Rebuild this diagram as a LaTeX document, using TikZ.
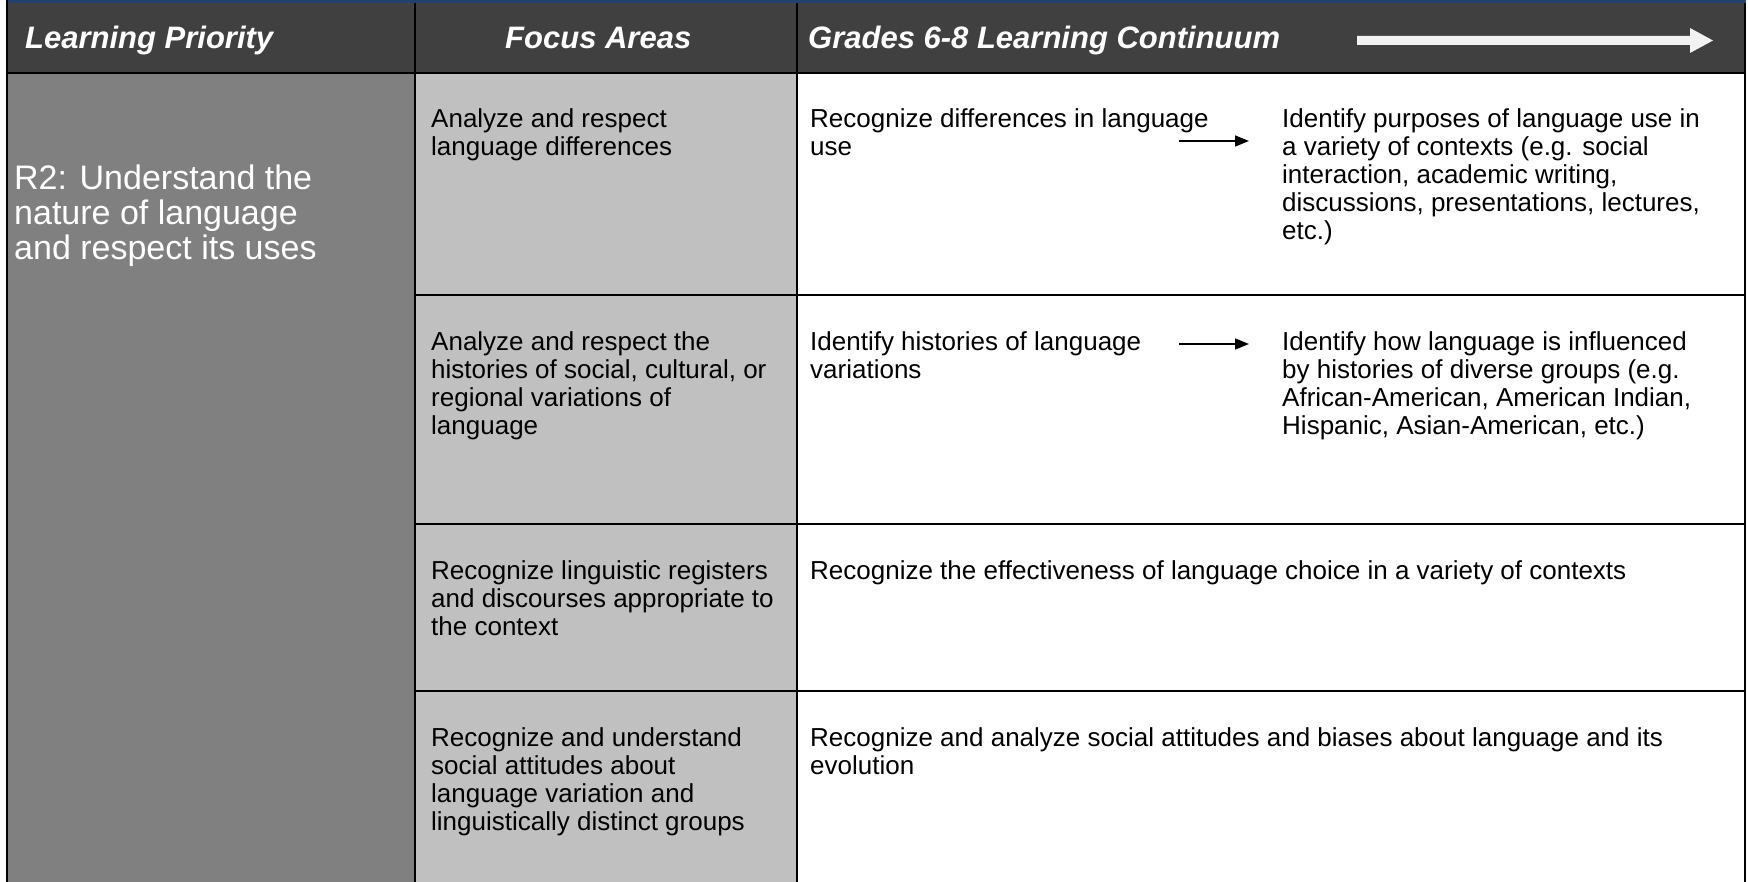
\documentclass[tikz,border=0pt]{standalone}
\usepackage{fontspec}
\setmainfont{Liberation Sans}
\usetikzlibrary{arrows.meta}
\definecolor{topblue}{RGB}{36,64,110}
\definecolor{hdr}{RGB}{64,64,64}
\definecolor{lpgray}{RGB}{128,128,128}
\definecolor{fagray}{RGB}{192,192,192}
\definecolor{arrw}{RGB}{242,242,242}
\begin{document}
\begin{tikzpicture}[x=1pt,y=-1pt,
  hdrtext/.style={anchor=base west, text=white, inner sep=0pt, font=\fontsize{31}{36}\selectfont\bfseries\itshape},
  body/.style={anchor=north west, align=left, inner sep=0pt, font=\fontsize{26}{28}\selectfont},
  lptext/.style={anchor=north west, align=left, inner sep=0pt, text=white, font=\fontsize{34}{35}\selectfont},
  grid/.style={line width=2pt, black},
  rowarrow/.style={line width=1.6pt, -{Triangle[length=14pt,width=11pt]}}]
\useasboundingbox (0,0) rectangle (1748,882);
\fill[white] (0,0) rectangle (1748,882);
% backgrounds
\fill[topblue] (7,0) rectangle (1746,3);
\fill[hdr] (7,3) rectangle (1745,73);
\fill[lpgray] (7,73) rectangle (415,882);
\fill[fagray] (415,73) rectangle (797,882);
% grid lines
\draw[grid] (7,0) -- (7,882);
\draw[grid] (1745,3) -- (1745,882);
\draw[grid] (415,3) -- (415,882);
\draw[grid] (797,3) -- (797,882);
\draw[grid] (7,73) -- (1745,73);
\draw[grid] (415,295) -- (1745,295);
\draw[grid] (415,524) -- (1745,524);
\draw[grid] (415,691) -- (1745,691);
% header texts
\node[hdrtext] (h1) at (25,49) {Learning Priority};
\node[hdrtext] (h2) at (505,49) {Focus Areas};
\node[hdrtext] (h3) at (808,49) {Grades 6-8 Learning Continuum};
% header arrow
\fill[arrw] (1357,36) -- (1690,36) -- (1690,28) -- (1713,40.5) -- (1690,53) -- (1690,45) -- (1357,45) -- cycle;
% learning priority
\node[lptext] (lp) at (14,165) {R2: Understand the\\nature of language\\and respect its uses};
% focus areas
\node[body] (f1) at (431,108) {Analyze and respect\\language differences};
\node[body] (f2) at (431,331) {Analyze and respect the\\histories of social, cultural, or\\regional variations of\\language};
\node[body] (f3) at (431,560) {Recognize linguistic registers\\and discourses appropriate to\\the context};
\node[body] (f4) at (431,727) {Recognize and understand\\social attitudes about\\language variation and\\linguistically distinct groups};
% continuum
\node[body] (c1a) at (810,108) {Recognize differences in language\\use};
\node[body] (c1b) at (1282,108) {Identify purposes of language use in\\a variety of contexts (e.g. social\\interaction, academic writing,\\discussions, presentations, lectures,\\etc.)};
\node[body] (c2a) at (810,331) {Identify histories of language\\variations};
\node[body] (c2b) at (1282,331) {Identify how language is influenced\\by histories of diverse groups (e.g.\\African-American, American Indian,\\Hispanic, Asian-American, etc.)};
\node[body] (c3) at (810,560) {Recognize the effectiveness of language choice in a variety of contexts};
\node[body] (c4) at (810,727) {Recognize and analyze social attitudes and biases about language and its\\evolution};
% row arrows
\coordinate (a1s) at (1179,141);
\coordinate (a1e) at (1249,141);
\coordinate (a2s) at (1179,344);
\coordinate (a2e) at (1249,344);
\draw[rowarrow] (a1s) -- (a1e);
\draw[rowarrow] (a2s) -- (a2e);
\end{tikzpicture}
\end{document}
